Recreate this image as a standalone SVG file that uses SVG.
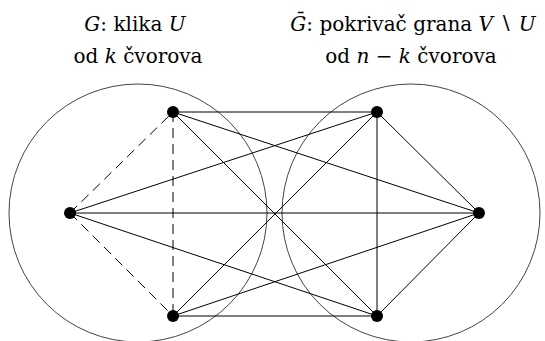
<svg xmlns="http://www.w3.org/2000/svg" width="545" height="341" viewBox="0 0 545 341">
<style>
.t{font-family:'DejaVu Serif','Liberation Serif',serif;font-size:20px;fill:#000;text-anchor:middle}
.i{font-style:italic}
.c{fill:none;stroke:#444;stroke-width:1}
.e{stroke:#000;stroke-width:1;fill:none}
.d{stroke-dasharray:10 6}
.n{fill:#000}
</style>
<rect width="545" height="341" fill="#fff"/>
<g id="circles">
<circle class="c" cx="138" cy="213" r="129"/>
<circle class="c" cx="411" cy="213" r="129"/>
</g>
<g id="connectors">
<line class="e d" x1="70" y1="213" x2="173" y2="112"/>
<line class="e d" x1="70" y1="213" x2="173" y2="316"/>
<line class="e d" x1="173" y1="112" x2="173" y2="316"/>
<line class="e" x1="377" y1="112" x2="479" y2="213"/>
<line class="e" x1="377" y1="316" x2="479" y2="213"/>
<line class="e" x1="377" y1="112" x2="377" y2="316"/>
<line class="e" x1="70" y1="213" x2="377" y2="112"/>
<line class="e" x1="70" y1="213" x2="479" y2="213"/>
<line class="e" x1="70" y1="213" x2="377" y2="316"/>
<line class="e" x1="173" y1="112" x2="377" y2="112"/>
<line class="e" x1="173" y1="112" x2="479" y2="213"/>
<line class="e" x1="173" y1="112" x2="377" y2="316"/>
<line class="e" x1="173" y1="316" x2="377" y2="112"/>
<line class="e" x1="173" y1="316" x2="479" y2="213"/>
<line class="e" x1="173" y1="316" x2="377" y2="316"/>
</g>
<g id="nA"><circle class="n" cx="70" cy="213" r="6"/></g>
<g id="nB"><circle class="n" cx="173" cy="112" r="6"/></g>
<g id="nC"><circle class="n" cx="173" cy="316" r="6"/></g>
<g id="nD"><circle class="n" cx="377" cy="112" r="6"/></g>
<g id="nE"><circle class="n" cx="479" cy="213" r="6"/></g>
<g id="nF"><circle class="n" cx="377" cy="316" r="6"/></g>
<g id="labelG">
<text class="t" x="135" y="31"><tspan class="i">G</tspan>: klika <tspan class="i">U</tspan></text>
<text class="t" x="138" y="63">od <tspan class="i">k</tspan> čvorova</text>
</g>
<g id="labelGbar">
<text class="t" x="413" y="31"><tspan class="i">Ḡ</tspan>: pokrivač grana <tspan class="i">V</tspan> ∖ <tspan class="i">U</tspan></text>
<text class="t" x="411" y="63">od <tspan class="i">n</tspan> − <tspan class="i">k</tspan> čvorova</text>
</g>
</svg>
